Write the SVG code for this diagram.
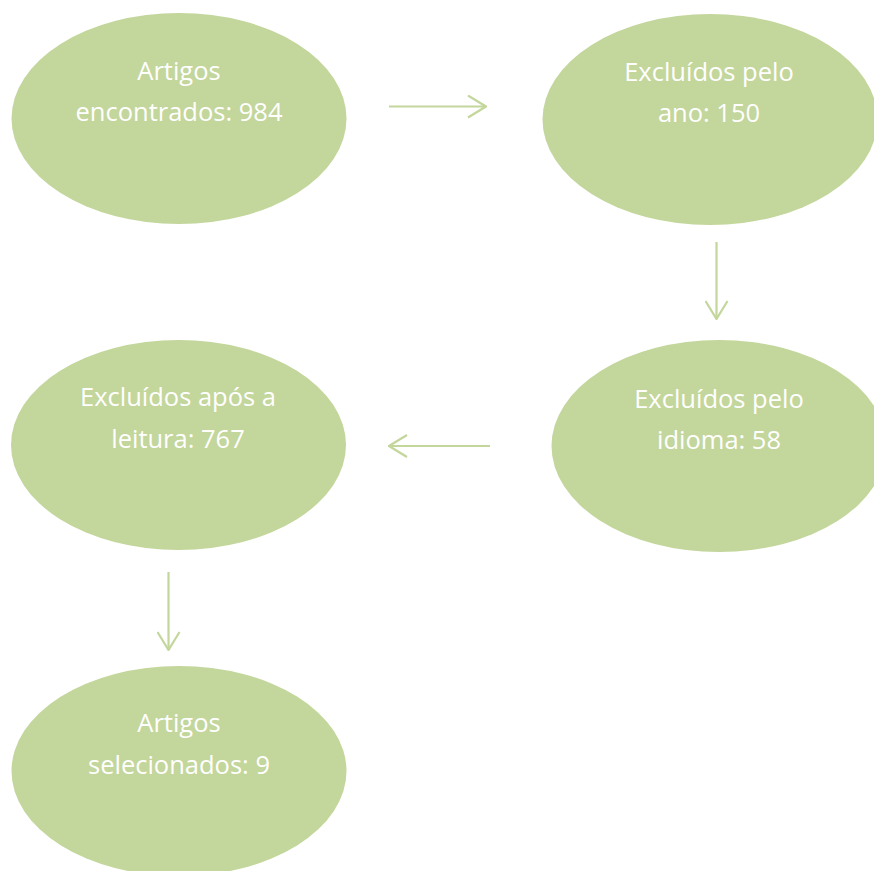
<svg xmlns="http://www.w3.org/2000/svg" width="874" height="871" viewBox="0 0 874 871">
<style>
.node{fill:#C3D69B;}
.lbl{font-family:"Open Sans","Liberation Sans",sans-serif;font-size:25.5px;fill:#FFFFFF;text-anchor:middle;}
.conn{stroke:#C3D69B;stroke-width:2.2;fill:none;}
</style>
<defs>
<marker id="arr" viewBox="0 0 20 24" refX="19" refY="12" markerWidth="20" markerHeight="24" markerUnits="userSpaceOnUse" orient="auto">
<path d="M1,1 L19,12 L1,23" fill="none" stroke="#C3D69B" stroke-width="2.2"/>
</marker>
</defs>
<rect width="874" height="871" fill="#FFFFFF"/>
<g id="n1"><ellipse class="node" cx="179" cy="118.5" rx="167.5" ry="105.5"/>
<text class="lbl" x="179" y="80">Artigos</text><text class="lbl" x="179" y="121">encontrados: 984</text></g>
<g id="n2"><ellipse class="node" cx="710" cy="119.5" rx="167.5" ry="105.5"/>
<text class="lbl" x="709" y="81">Excluídos pelo</text><text class="lbl" x="709" y="122">ano: 150</text></g>
<g id="n3"><ellipse class="node" cx="719" cy="446" rx="167.5" ry="106"/>
<text class="lbl" x="719" y="408">Excluídos pelo</text><text class="lbl" x="719" y="449">idioma: 58</text></g>
<g id="n4"><ellipse class="node" cx="178.5" cy="445" rx="167.5" ry="105"/>
<text class="lbl" x="178" y="406">Excluídos após a</text><text class="lbl" x="178" y="448">leitura: 767</text></g>
<g id="n5"><ellipse class="node" cx="179" cy="771" rx="167.5" ry="105"/>
<text class="lbl" x="179" y="732">Artigos</text><text class="lbl" x="179" y="774">selecionados: 9</text></g>
<g id="connectors">
<line class="conn" x1="389" y1="106.5" x2="486" y2="106.5" marker-end="url(#arr)"/>
<line class="conn" x1="716.5" y1="242" x2="716.5" y2="319" marker-end="url(#arr)"/>
<line class="conn" x1="490" y1="446" x2="389" y2="446" marker-end="url(#arr)"/>
<line class="conn" x1="168.5" y1="572" x2="168.5" y2="650" marker-end="url(#arr)"/>
</g>
</svg>
